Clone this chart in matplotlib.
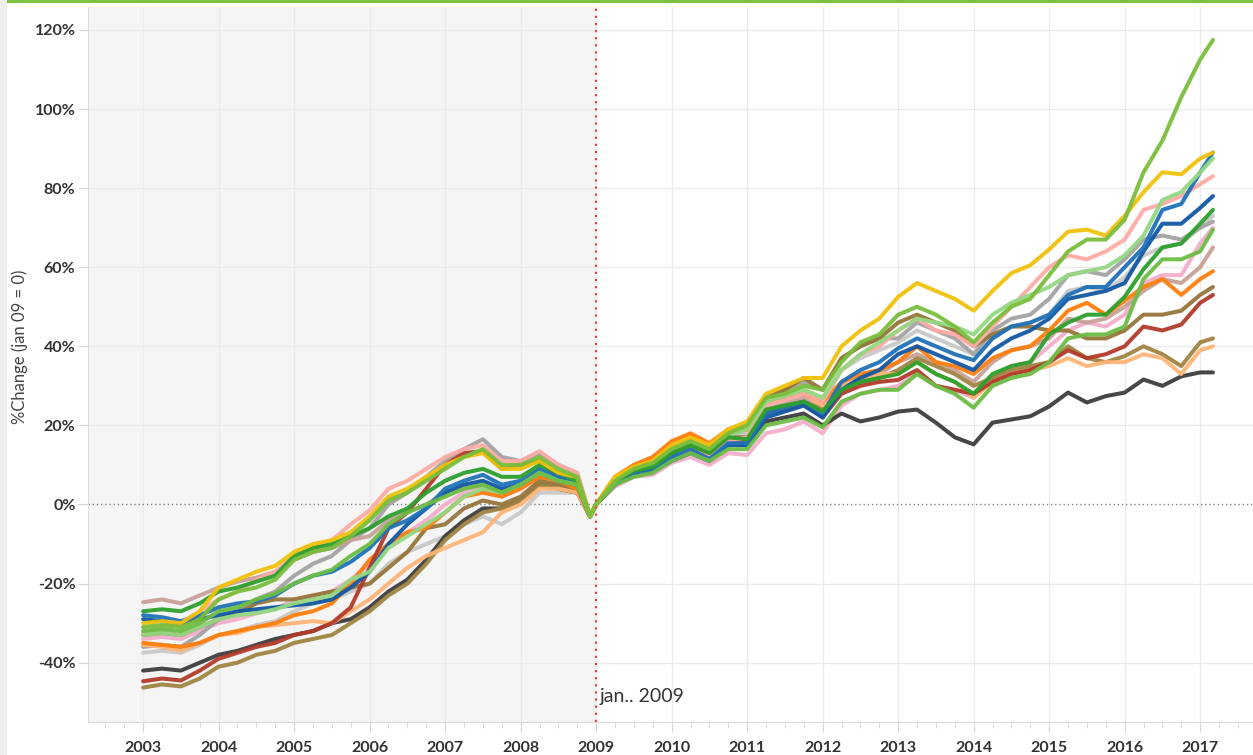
import numpy as np
import matplotlib.pyplot as plt
from matplotlib.ticker import MultipleLocator, FuncFormatter

plt.rcParams['font.family'] = ['Lato', 'DejaVu Sans']

# time axis: quarterly to late 2008, one extra point for the Dec-08 trough,
# quarterly again from jan 2009, plus the last reading in early 2017
years = list(np.arange(2003.0, 2009.0, 0.25)) + [2008.92] + \
        list(np.arange(2009.0, 2017.01, 0.25)) + [2017.17]

# % change vs jan 2009, one list per region
lime_top = [-31, -30.5, -31, -29, -24, -22, -21, -19, -14, -12, -11, -8, -4, 1, 3, 6, 9, 12, 14, 10, 10, 12, 9, 7, -3,
            0, 6, 9, 10.5, 14, 16, 14, 18, 20, 27, 28, 30, 29, 36, 41, 43, 48, 50, 48, 45, 41, 46, 50, 52, 58, 64, 67, 67,
            72, 84, 92, 103, 112.5, 117.5]
yellow = [-30, -29.5, -30, -27, -21, -19, -17, -15.5, -12, -10, -9, -7, -3, 2, 4, 7, 10, 12, 13, 9, 9, 11, 8, 7, -3,
          0, 7, 9.5, 11, 15, 17, 15, 19, 21, 28, 30, 32, 32, 40, 44, 47, 52.5, 56, 54, 52, 49, 54, 58.5, 60.5, 64.5, 69,
          69.5, 68, 73, 79, 84, 83.5, 87.5, 89]
blue = [-28, -28.5, -29.5, -28, -26, -25, -24.5, -23, -20, -18, -17, -14.5, -11, -6, -4, -1, 4, 6, 7.5, 5, 6, 9, 7, 5, -3,
        0, 5.5, 8, 9, 12, 14, 11.5, 15.5, 15.5, 23, 24.5, 26, 23, 31, 34, 36, 39.5, 42, 40, 38, 36.5, 42, 45, 46, 48, 53,
        55, 55, 60, 65, 74.5, 76, 84, 89]
light_green = [-33, -32.5, -33, -31, -29, -28, -27.5, -26.5, -25, -24, -23, -19, -17, -11, -8, -5, -2, 2, 4, 3, 5, 8, 6, 5, -3,
               0, 6, 9, 10, 14, 16, 14, 17.5, 19, 26, 27.5, 29, 27, 34, 38, 41, 44, 47, 46, 45, 43, 48, 51, 53, 55, 58,
               59, 60, 63, 68, 77, 79, 84, 87.5]
salmon = [-32.5, -31, -30, -27, -24, -22, -19, -17, -13, -11, -9, -5, -1.5, 4, 6, 9, 12, 14, 15, 11, 11, 13.5, 10, 8, -3,
          0, 6, 8, 9, 12, 14, 12, 16, 17, 25, 26.5, 28, 26, 34, 38, 40, 44, 47, 44, 43, 40, 45, 50, 55, 60, 63, 62, 64,
          67, 74.5, 76, 78, 81, 83]
dark_blue = [-29, -29.5, -30, -29, -28, -27, -26.5, -26, -25.5, -25, -24, -21, -17, -10, -5, -1, 3, 5, 6, 4, 5, 8, 6, 5, -3,
             0, 5, 7.5, 8.5, 11, 13, 11, 15, 15, 22, 23.5, 25, 22, 29, 32, 34, 38, 40, 38, 36, 34, 39, 42, 44, 47, 52,
             53, 54, 56, 64, 71, 71, 75, 78]
green = [-27, -26.5, -27, -25, -22, -21, -19.5, -18, -13, -11, -10, -8, -6, -3, -1, 3, 6, 8, 9, 7, 7, 10, 8, 6, -3,
         0, 6, 8.5, 9.5, 13, 15, 13, 17, 16.5, 24, 25, 26, 23.5, 29, 31, 32, 33, 36, 33, 31, 28, 33, 35, 36, 43, 46, 48,
         48, 52.5, 59.5, 65, 66, 71, 74.5]
light_gray = [-37.5, -37, -37.5, -35.5, -33, -32, -30.5, -29.5, -27, -25, -24, -22, -20, -15, -12, -10, -8, -5, -3, -5, -2, 3, 3, 3, -3,
              0, 6, 8.5, 10, 13, 16, 14, 17.5, 18, 26, 27, 29, 27, 34, 37, 39, 41, 44, 42, 40, 38, 42, 45, 46, 48, 54,
              55, 54, 57.5, 63, 65, 66, 70, 73]
gray = [-36, -35.5, -36, -33, -29, -27, -24, -22, -18, -15, -13, -9, -6, 0, 3, 7, 11, 14, 16.5, 12, 11, 13, 10, 8, -3,
        0, 6, 9, 11, 15, 17, 15, 19, 20, 27, 29, 31, 29, 37, 40, 42, 42, 46, 44, 42, 38, 44, 47, 48, 52, 58, 59, 58, 62,
        67, 68, 67, 70, 71.5]
lime = [-32, -31.5, -32, -30, -27, -26, -24, -22.5, -20, -18, -16.5, -13, -10, -5, -2, 0, 2, 4, 5, 3, 5, 8, 6, 5, -3,
        0, 5, 7, 8, 11, 13, 11, 14, 14, 20, 21, 22, 19.5, 26, 28, 29, 29, 33, 30, 28, 24.5, 30, 32, 33, 36, 42, 43, 43,
        45, 57, 62, 62, 64, 69.5]
rose = [-24.7, -24, -25, -23, -21, -19.5, -18.5, -17, -14, -12, -11, -9, -8, -4, -2, 0, 3, 4, 5, 3, 5, 8, 6, 5, -3,
        0, 6, 8.5, 10, 13, 15.5, 13, 17, 17, 24, 25.5, 27, 24.5, 30, 32, 33, 36, 38, 36, 34, 31, 36, 39, 40, 42, 47, 46,
        47, 50, 54, 57, 56, 60, 65]
orange = [-35, -35.5, -36, -35, -33, -32, -31, -30, -28, -27, -25, -20, -14, -10, -7, -6, -2, 2, 3, 2, 4, 7, 6, 4, -3,
          0, 7, 10, 12, 16, 18, 15.5, 19, 19, 26, 27, 28, 26, 31, 33, 34, 36, 40, 36, 35, 33, 37, 39, 40, 44, 49, 51,
          48, 51.5, 55, 57, 53, 57, 59]
brown = [-33, -32.5, -33, -31, -29, -27.5, -25, -24, -24, -23, -22, -21, -20, -16, -12, -6, -5, -1, 1, 0, 2, 6, 5, 4, -3,
         0, 6, 9, 10.5, 14, 16, 14, 18, 19, 27, 29, 32, 29, 37, 40, 42, 46, 48, 46, 44, 40, 43, 45, 45, 44, 44, 42, 42,
         44, 48, 48, 49, 53, 55]
dark_red = [-44.7, -44, -44.5, -42, -39, -37.5, -36, -35, -33, -32, -30, -26, -16, -6, -2, 4, 10, 13, 13.5, 9, 10, 11, 7, 5, -3,
            0, 6, 8.5, 9.5, 13, 15, 13, 16.5, 16, 23, 24, 25.5, 22, 28, 30, 31, 31.5, 34, 30, 29, 28, 31, 33, 34, 36, 39,
            37, 38, 40, 45, 44, 45.5, 51, 53]
olive = [-46.3, -45.5, -46, -44, -41, -40, -38, -37, -35, -34, -33, -30, -27, -23, -20, -15, -9, -5, -2, -1, 1, 5, 4, 3, -3,
         0, 6, 8.5, 10, 13, 15, 13, 17, 17, 24, 25, 26, 24, 29, 31, 32, 34, 37, 35, 33, 30, 32, 34, 35, 36, 40, 37, 36,
         37.5, 40, 38, 35, 41, 42]
light_orange = [-35.5, -36, -37, -35, -33, -32.5, -31, -30.5, -30, -29.5, -30, -27, -24, -20, -16, -13, -11, -9, -7, -2, 0, 4, 4, 3, -3,
                0, 7, 10, 12, 15.5, 17.5, 15, 18.5, 19, 26, 27, 28, 25, 30, 32, 33, 33, 36, 33, 31, 27, 31, 33, 34, 35,
                37, 35, 36, 36, 38, 37, 33, 39, 40]
dark_gray = [-42, -41.5, -42, -40, -38, -37, -35.5, -34, -33, -32, -30, -29, -26, -22, -19, -14, -8, -4, -1, -1, 1, 5, 4, 3, -3,
             0, 5.5, 8, 9, 12, 14, 12, 15.5, 15, 21, 22, 23, 20, 23, 21, 22, 23.5, 24, 20.7, 17, 15.2, 20.7, 21.5, 22.3,
             24.8, 28.3, 25.8, 27.4, 28.3, 31.6, 30, 32.4, 33.4, 33.4]
pink = [-34, -33.5, -34, -32, -30, -29, -27.5, -26.5, -24, -23, -22, -19, -15, -10, -7, -4, 0, 3, 4, 2, 4, 7, 5, 4, -3,
        0, 4.5, 7, 7.5, 10.5, 12, 10, 13, 12.5, 18, 19, 21, 18, 25, 28, 29, 30, 33, 30, 29, 27, 32, 35, 36, 40, 44, 46,
        45, 48, 56, 58, 58, 66, 70]

# drawing order: first entries end up underneath
series = [
    (pink, '#f4aecb'), (light_gray, '#c9c9c9'), (gray, '#a3a3a3'), (rose, '#c7a198'),
    (dark_gray, '#3d3d3d'), (olive, '#a08442'), (brown, '#96763a'), (light_orange, '#ffb477'),
    (orange, '#ff7f0e'), (dark_red, '#b33b2b'), (salmon, '#ffaba6'), (dark_blue, '#1258a3'),
    (blue, '#1f72b8'), (light_green, '#94d883'), (green, '#2ca02c'), (lime, '#6cbd45'),
    (yellow, '#f1c20b'), (lime_top, '#79be3c'),
]

year_ticks = list(range(2003, 2018))
pct_ticks = [-40, -20, 0, 20, 40, 60, 80, 100, 120]

fig = plt.figure(figsize=(12.53, 7.55), dpi=100)
fig.patch.set_facecolor('white')
# page chrome: grey strip on the left and the green rule along the top
fig.add_artist(plt.Rectangle((0, 0), 7 / 1253, 1, transform=fig.transFigure,
                             facecolor='#efefef', edgecolor='none'))
fig.add_artist(plt.Rectangle((7 / 1253, 1 - 3 / 755), 1, 3 / 755, transform=fig.transFigure,
                             facecolor='#7cc242', edgecolor='none'))

ax = fig.add_axes([88 / 1253, 33 / 755, 1 - 88 / 1253, (755 - 33 - 7) / 755])
ax.set_facecolor('white')
ax.set_xlim(2002.27, 2017.70)
ax.set_ylim(-55.0, 125.8)

ax.axvspan(2002.27, 2009.0, color='#f5f5f5', zorder=0)
for yt in pct_ticks:
    if yt != 0:
        ax.axhline(yt, color='#ebebeb', lw=1, zorder=1)
for xt in year_ticks:
    ax.axvline(xt, color='#ebebeb', lw=1, zorder=1)
ax.axhline(0, color='#808080', lw=1, ls=(0, (1, 2)), zorder=2)

for vals, col in series:
    ax.plot(years, vals, color=col, lw=2.9, alpha=0.95, solid_joinstyle='round',
            solid_capstyle='round', zorder=3)

ax.axvline(2009.0, color='#e04a44', lw=1.6, ls=(0, (1, 2.2)), zorder=4)
ax.text(2009.05, -48.5, 'jan.. 2009', fontsize=14, color='#333333', ha='left', va='center', zorder=5)

ax.set_xticks(year_ticks)
ax.xaxis.set_minor_locator(MultipleLocator(0.25))
ax.set_yticks(pct_ticks)
ax.yaxis.set_major_formatter(FuncFormatter(lambda v, _: f'{int(v)}%'))
ax.tick_params(axis='x', which='major', length=7, color='#d6d6d6', labelsize=11.5,
               labelcolor='#333333', pad=7)
ax.tick_params(axis='x', which='minor', length=4, color='#d6d6d6')
ax.tick_params(axis='y', length=7, color='#d6d6d6', labelsize=11.5, labelcolor='#333333', pad=2)
for lab in ax.get_xticklabels() + ax.get_yticklabels():
    lab.set_fontweight('bold')

for side in ('top', 'right'):
    ax.spines[side].set_visible(False)
ax.spines['left'].set_color('#dcdcdc')
ax.spines['bottom'].set_color('#dcdcdc')

fig.text(20 / 1253, 1 - 347 / 755, '%Change (jan 09 = 0)', rotation=90, fontsize=12,
         color='#444444', ha='center', va='center')

fig.savefig('out.png', dpi=100)
